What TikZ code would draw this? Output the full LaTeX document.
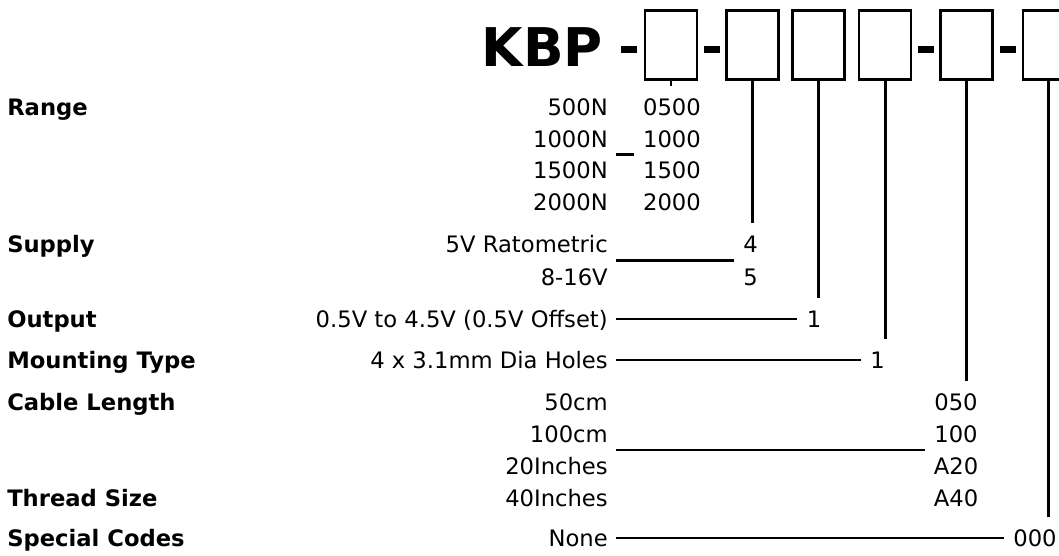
\documentclass[tikz,border=0pt]{standalone}
\usepackage{fontspec}
\setmainfont{DejaVu Sans}
\usepackage{tikz}
\usetikzlibrary{positioning,calc}
\tikzset{
  codebox/.style={draw, line width=2pt, minimum width=39pt, minimum height=51.5pt, inner sep=0pt},
  dashbar/.style={fill=black, minimum width=12pt, minimum height=5.25pt, inner sep=0pt},
  txt/.style={inner sep=0pt, text height=12.4pt, text depth=0pt, font=\fontsize{17}{20}\selectfont},
  heading/.style={txt, anchor=west, font=\fontsize{17}{20}\selectfont\bfseries},
  desc/.style={txt, anchor=east},
  code/.style={txt},
  rule/.style={line width=2.2pt, shorten <=6pt, shorten >=7pt},
  tick/.style={line width=2.2pt, shorten >=9pt},
}

\begin{document}
\begin{tikzpicture}[x=0.75pt, y=-0.75pt]
  \clip (0,0) rectangle (1059,556);

  % part number header
  \node[anchor=base east, inner sep=0pt, font=\fontsize{40}{48}\selectfont\bfseries] (kbp) at (603,67) {KBP};
  \node[codebox] (b1) at (671,45) {};
  \node[codebox, right=20pt of b1] (b2) {};
  \node[codebox, right=8.8pt of b2] (b3) {};
  \node[codebox, right=8.8pt of b3] (b4) {};
  \node[codebox, right=20pt of b4] (b5) {};
  \node[codebox, right=20.8pt of b5] (b6) {};
  \node[dashbar] (d1) at (629,50) {};
  \node[dashbar] (d2) at ($(b1.east)!0.5!(b2.west)+(0,5)$) {};
  \node[dashbar] (d3) at ($(b4.east)!0.5!(b5.west)+(0,5)$) {};
  \node[dashbar] (d4) at ($(b5.east)!0.5!(b6.west)+(0,5)$) {};

  % headings
  \node[heading] (hr) at (7,107) {Range};
  \node[heading] (hs) at (7,244) {Supply};
  \node[heading] (ho) at (7,319) {Output};
  \node[heading] (hm) at (7,360) {Mounting Type};
  \node[heading] (hc) at (7,402) {Cable Length};
  \node[heading] (ht) at (7,498) {Thread Size};
  \node[heading] (hx) at (7,538) {Special Codes};

  % options
  \node[desc] (r1d) at (608,107) {500N};
  \node[desc] (r2d) at (608,139) {1000N};
  \node[desc] (r3d) at (608,170) {1500N};
  \node[desc] (r4d) at (608,202) {2000N};
  \node[desc] (s1d) at (608,244) {5V Ratometric};
  \node[desc] (s2d) at (608,277) {8-16V};
  \node[desc] (od) at (608,319) {0.5V to 4.5V (0.5V Offset)};
  \node[desc] (md) at (608,360) {4 x 3.1mm Dia Holes};
  \node[desc] (c1d) at (608,402) {50cm};
  \node[desc] (c2d) at (608,434) {100cm};
  \node[desc] (c3d) at (608,466) {20Inches};
  \node[desc] (c4d) at (608,498) {40Inches};
  \node[desc] (nd) at (608,538) {None};

  % codes
  \node[code] (r1c) at (672,107) {0500};
  \node[code] (r2c) at (672,139) {1000};
  \node[code] (r3c) at (672,170) {1500};
  \node[code] (r4c) at (672,202) {2000};
  \node[code] (s1c) at (750.5,244) {4};
  \node[code] (s2c) at (750.5,277) {5};
  \node[code] (oc) at (814,319) {1};
  \node[code] (mc) at (877.5,360) {1};
  \node[code] (c1c) at (956,402) {050};
  \node[code] (c2c) at (956,434) {100};
  \node[code] (c3c) at (956,466) {A20};
  \node[code] (c4c) at (956,498) {A40};
  \node[code] (nc) at (1035,538) {000};

  \draw[tick] (b1.south) -- (b1.south |- r1c.north);
  \draw[tick] (b2.south) -- (b2.south |- s1c.north);
  \draw[tick] (b3.south) -- (b3.south |- oc.north);
  \draw[tick] (b4.south) -- (b4.south |- mc.north);
  \draw[tick] (b5.south) -- (b5.south |- c1c.north);
  \draw[tick] (b6.south) -- (b6.south |- nc.north);

  \draw[rule] ($(r2d.east)!0.5!(r3d.east)$) -- ($(r2c.west)!0.5!(r3c.west)$);
  \draw[rule] ($(s1d.east)!0.5!(s2d.east)$) -- ($(s1c.west)!0.5!(s2c.west)$);
  \draw[rule] (od.east) -- (oc.west);
  \draw[rule] (md.east) -- (mc.west);
  \draw[rule] ($(c2d.east)!0.5!(c3d.east)$) -- ($(c2c.west)!0.5!(c3c.west)$);
  \draw[rule] (nd.east) -- (nc.west);
\end{tikzpicture}
\end{document}
